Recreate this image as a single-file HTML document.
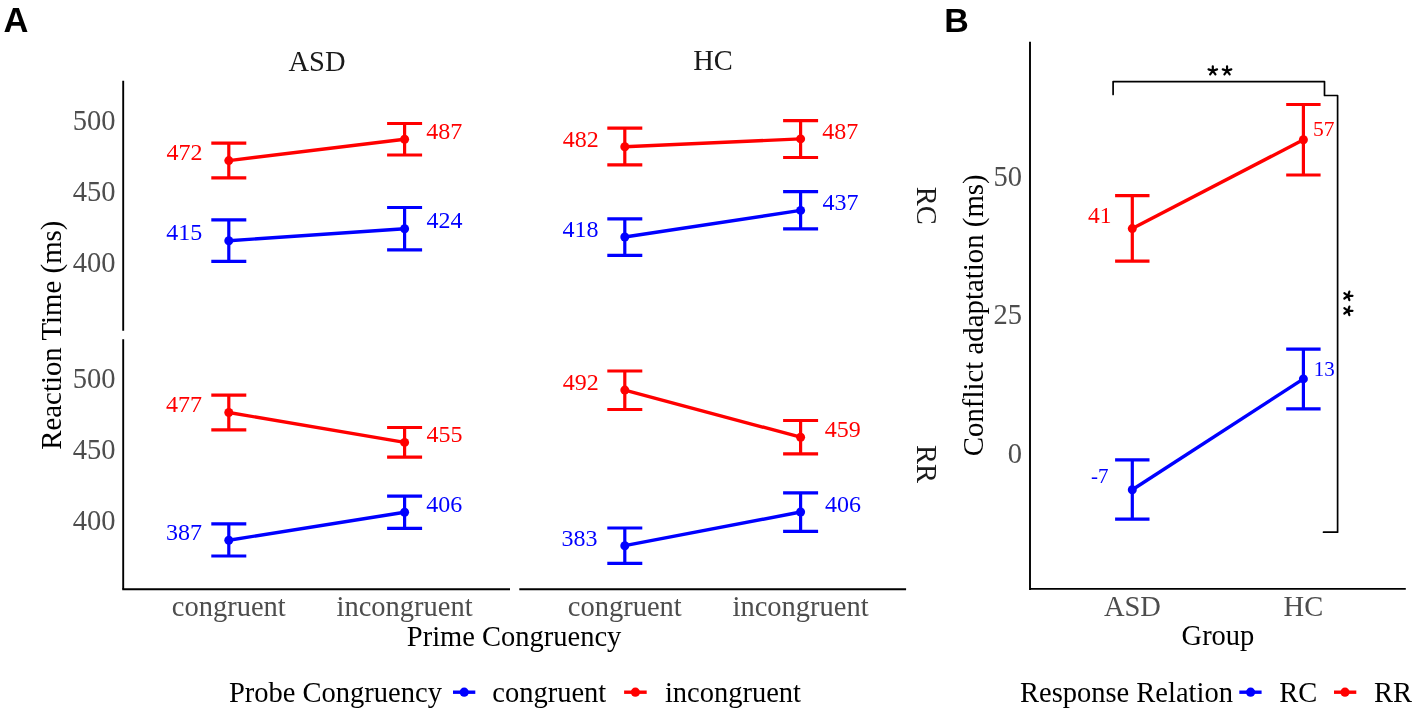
<!DOCTYPE html>
<html><head><meta charset="utf-8"><title>Figure</title>
<style>html,body{margin:0;padding:0;background:#fff;}body{width:1418px;height:714px;overflow:hidden;font-family:"Liberation Serif",serif;}svg{display:block;will-change:transform;}</style>
</head><body>
<svg width="1418" height="714" viewBox="0 0 1418 714">
<rect width="1418" height="714" fill="#fff"/>
<text x="3.56" y="32.07" font-family="Liberation Sans, sans-serif" font-size="34.5" font-weight="bold" fill="#000000">A</text>
<text x="944.35" y="32.05" font-family="Liberation Sans, sans-serif" font-size="34" font-weight="bold" fill="#000000">B</text>
<path d="M123.2,80.8V330.8M123.2,339.3V589.3" stroke="#000" stroke-width="1.9" fill="none"/>
<path d="M122.25,589.3H510.0M519.3,589.3H906.1" stroke="#000" stroke-width="1.9" fill="none"/>
<text x="288.53" y="70.54" font-family="Liberation Serif, serif" font-size="28.5" font-weight="normal" fill="#1a1a1a">ASD</text>
<text x="693.28" y="70.29" font-family="Liberation Serif, serif" font-size="28.5" font-weight="normal" fill="#1a1a1a">HC</text>
<text x="0" y="0" transform="translate(916.91,186.76) rotate(90)" font-family="Liberation Serif, serif" font-size="28.5" fill="#1a1a1a">RC</text>
<text x="0" y="0" transform="translate(916.82,444.99) rotate(90)" font-family="Liberation Serif, serif" font-size="28.5" fill="#1a1a1a">RR</text>
<text x="72.63" y="130.18" font-family="Liberation Serif, serif" font-size="28.5" font-weight="normal" fill="#4d4d4d">500</text>
<text x="72.63" y="201.18" font-family="Liberation Serif, serif" font-size="28.5" font-weight="normal" fill="#4d4d4d">450</text>
<text x="72.63" y="272.18" font-family="Liberation Serif, serif" font-size="28.5" font-weight="normal" fill="#4d4d4d">400</text>
<text x="72.63" y="388.28" font-family="Liberation Serif, serif" font-size="28.5" font-weight="normal" fill="#4d4d4d">500</text>
<text x="72.63" y="459.28" font-family="Liberation Serif, serif" font-size="28.5" font-weight="normal" fill="#4d4d4d">450</text>
<text x="72.63" y="530.28" font-family="Liberation Serif, serif" font-size="28.5" font-weight="normal" fill="#4d4d4d">400</text>
<text x="0" y="0" transform="translate(61.39,449.73) rotate(-90)" font-family="Liberation Serif, serif" font-size="28.85" fill="#000000">Reaction Time (ms)</text>
<text x="228.80" y="616.00" text-anchor="middle" font-family="Liberation Serif, serif" font-size="28.5" fill="#4d4d4d">congruent</text>
<text x="404.60" y="616.00" text-anchor="middle" font-family="Liberation Serif, serif" font-size="28.5" fill="#4d4d4d">incongruent</text>
<text x="624.80" y="616.00" text-anchor="middle" font-family="Liberation Serif, serif" font-size="28.5" fill="#4d4d4d">congruent</text>
<text x="800.60" y="616.00" text-anchor="middle" font-family="Liberation Serif, serif" font-size="28.5" fill="#4d4d4d">incongruent</text>
<text x="406.85" y="646.01" font-family="Liberation Serif, serif" font-size="28.5" font-weight="normal" fill="#000000">Prime Congruency</text>
<path d="M211.30,143.20H246.30M211.30,177.80H246.30M228.80,143.20V177.80" stroke="#ff0000" stroke-width="3.2" fill="none"/>
<path d="M387.10,123.50H422.10M387.10,155.00H422.10M404.60,123.50V155.00" stroke="#ff0000" stroke-width="3.2" fill="none"/>
<path d="M211.30,219.90H246.30M211.30,261.40H246.30M228.80,219.90V261.40" stroke="#0000ff" stroke-width="3.2" fill="none"/>
<path d="M387.10,207.50H422.10M387.10,249.80H422.10M404.60,207.50V249.80" stroke="#0000ff" stroke-width="3.2" fill="none"/>
<path d="M607.30,128.20H642.30M607.30,164.90H642.30M624.80,128.20V164.90" stroke="#ff0000" stroke-width="3.2" fill="none"/>
<path d="M783.10,120.70H818.10M783.10,157.50H818.10M800.60,120.70V157.50" stroke="#ff0000" stroke-width="3.2" fill="none"/>
<path d="M607.30,218.90H642.30M607.30,255.30H642.30M624.80,218.90V255.30" stroke="#0000ff" stroke-width="3.2" fill="none"/>
<path d="M783.10,191.60H818.10M783.10,228.80H818.10M800.60,191.60V228.80" stroke="#0000ff" stroke-width="3.2" fill="none"/>
<path d="M211.30,395.20H246.30M211.30,429.80H246.30M228.80,395.20V429.80" stroke="#ff0000" stroke-width="3.2" fill="none"/>
<path d="M387.10,427.50H422.10M387.10,457.20H422.10M404.60,427.50V457.20" stroke="#ff0000" stroke-width="3.2" fill="none"/>
<path d="M211.30,523.90H246.30M211.30,556.00H246.30M228.80,523.90V556.00" stroke="#0000ff" stroke-width="3.2" fill="none"/>
<path d="M387.10,496.20H422.10M387.10,528.30H422.10M404.60,496.20V528.30" stroke="#0000ff" stroke-width="3.2" fill="none"/>
<path d="M607.30,371.00H642.30M607.30,409.50H642.30M624.80,371.00V409.50" stroke="#ff0000" stroke-width="3.2" fill="none"/>
<path d="M783.10,420.50H818.10M783.10,453.80H818.10M800.60,420.50V453.80" stroke="#ff0000" stroke-width="3.2" fill="none"/>
<path d="M607.30,528.00H642.30M607.30,563.30H642.30M624.80,528.00V563.30" stroke="#0000ff" stroke-width="3.2" fill="none"/>
<path d="M783.10,492.80H818.10M783.10,531.30H818.10M800.60,492.80V531.30" stroke="#0000ff" stroke-width="3.2" fill="none"/>
<line x1="228.80" y1="160.60" x2="404.60" y2="139.30" stroke="#ff0000" stroke-width="3.4"/>
<circle cx="228.80" cy="160.60" r="4.5" fill="#ff0000"/>
<circle cx="404.60" cy="139.30" r="4.5" fill="#ff0000"/>
<line x1="228.80" y1="240.70" x2="404.60" y2="228.70" stroke="#0000ff" stroke-width="3.4"/>
<circle cx="228.80" cy="240.70" r="4.5" fill="#0000ff"/>
<circle cx="404.60" cy="228.70" r="4.5" fill="#0000ff"/>
<line x1="624.80" y1="146.70" x2="800.60" y2="138.90" stroke="#ff0000" stroke-width="3.4"/>
<circle cx="624.80" cy="146.70" r="4.5" fill="#ff0000"/>
<circle cx="800.60" cy="138.90" r="4.5" fill="#ff0000"/>
<line x1="624.80" y1="237.00" x2="800.60" y2="210.40" stroke="#0000ff" stroke-width="3.4"/>
<circle cx="624.80" cy="237.00" r="4.5" fill="#0000ff"/>
<circle cx="800.60" cy="210.40" r="4.5" fill="#0000ff"/>
<line x1="228.80" y1="412.50" x2="404.60" y2="442.40" stroke="#ff0000" stroke-width="3.4"/>
<circle cx="228.80" cy="412.50" r="4.5" fill="#ff0000"/>
<circle cx="404.60" cy="442.40" r="4.5" fill="#ff0000"/>
<line x1="228.80" y1="540.20" x2="404.60" y2="512.20" stroke="#0000ff" stroke-width="3.4"/>
<circle cx="228.80" cy="540.20" r="4.5" fill="#0000ff"/>
<circle cx="404.60" cy="512.20" r="4.5" fill="#0000ff"/>
<line x1="624.80" y1="390.10" x2="800.60" y2="437.20" stroke="#ff0000" stroke-width="3.4"/>
<circle cx="624.80" cy="390.10" r="4.5" fill="#ff0000"/>
<circle cx="800.60" cy="437.20" r="4.5" fill="#ff0000"/>
<line x1="624.80" y1="545.70" x2="800.60" y2="512.00" stroke="#0000ff" stroke-width="3.4"/>
<circle cx="624.80" cy="545.70" r="4.5" fill="#0000ff"/>
<circle cx="800.60" cy="512.00" r="4.5" fill="#0000ff"/>
<text x="166.52" y="160.30" font-family="Liberation Serif, serif" font-size="24" fill="#ff0000">472</text>
<text x="426.22" y="139.10" font-family="Liberation Serif, serif" font-size="24" fill="#ff0000">487</text>
<text x="166.24" y="240.40" font-family="Liberation Serif, serif" font-size="24" fill="#0000ff">415</text>
<text x="426.42" y="228.40" font-family="Liberation Serif, serif" font-size="24" fill="#0000ff">424</text>
<text x="562.72" y="146.50" font-family="Liberation Serif, serif" font-size="24" fill="#ff0000">482</text>
<text x="822.22" y="138.70" font-family="Liberation Serif, serif" font-size="24" fill="#ff0000">487</text>
<text x="562.61" y="236.80" font-family="Liberation Serif, serif" font-size="24" fill="#0000ff">418</text>
<text x="822.42" y="210.20" font-family="Liberation Serif, serif" font-size="24" fill="#0000ff">437</text>
<text x="166.10" y="412.30" font-family="Liberation Serif, serif" font-size="24" fill="#ff0000">477</text>
<text x="426.42" y="442.20" font-family="Liberation Serif, serif" font-size="24" fill="#ff0000">455</text>
<text x="166.10" y="540.00" font-family="Liberation Serif, serif" font-size="24" fill="#0000ff">387</text>
<text x="426.32" y="512.00" font-family="Liberation Serif, serif" font-size="24" fill="#0000ff">406</text>
<text x="562.72" y="389.90" font-family="Liberation Serif, serif" font-size="24" fill="#ff0000">492</text>
<text x="824.72" y="437.00" font-family="Liberation Serif, serif" font-size="24" fill="#ff0000">459</text>
<text x="561.54" y="545.50" font-family="Liberation Serif, serif" font-size="24" fill="#0000ff">383</text>
<text x="824.92" y="511.80" font-family="Liberation Serif, serif" font-size="24" fill="#0000ff">406</text>
<text x="228.98" y="701.96" font-family="Liberation Serif, serif" font-size="28.5" font-weight="normal" fill="#000000">Probe Congruency</text>
<line x1="453.0" y1="692.2" x2="475.3" y2="692.2" stroke="#0000ff" stroke-width="3.4"/>
<circle cx="464.2" cy="692.2" r="4.6" fill="#0000ff"/>
<line x1="624.1" y1="692.2" x2="646.7" y2="692.2" stroke="#ff0000" stroke-width="3.4"/>
<circle cx="635.4" cy="692.2" r="4.6" fill="#ff0000"/>
<text x="492.32" y="702.00" font-family="Liberation Serif, serif" font-size="28.5" fill="#000">congruent</text>
<text x="664.90" y="702.00" font-family="Liberation Serif, serif" font-size="28.5" fill="#000">incongruent</text>
<path d="M1030.0,41.8V589.9M1029.05,588.9H1405.8" stroke="#000" stroke-width="1.9" fill="none"/>
<text x="993.48" y="186.33" font-family="Liberation Serif, serif" font-size="28.5" font-weight="normal" fill="#4d4d4d">50</text>
<text x="993.51" y="324.49" font-family="Liberation Serif, serif" font-size="28.5" font-weight="normal" fill="#4d4d4d">25</text>
<text x="1007.73" y="462.93" font-family="Liberation Serif, serif" font-size="28.5" font-weight="normal" fill="#4d4d4d">0</text>
<text x="0" y="0" transform="translate(983.23,456.26) rotate(-90)" font-family="Liberation Serif, serif" font-size="28.85" fill="#000000">Conflict adaptation (ms)</text>
<text x="1132.40" y="616.20" text-anchor="middle" font-family="Liberation Serif, serif" font-size="28.5" fill="#4d4d4d">ASD</text>
<text x="1303.40" y="616.20" text-anchor="middle" font-family="Liberation Serif, serif" font-size="28.5" fill="#4d4d4d">HC</text>
<text x="1181.56" y="645.30" font-family="Liberation Serif, serif" font-size="28.5" font-weight="normal" fill="#000000">Group</text>
<path d="M1115.10,195.70H1149.50M1115.10,261.20H1149.50M1132.30,195.70V261.20" stroke="#ff0000" stroke-width="3.2" fill="none"/>
<path d="M1286.20,104.50H1320.60M1286.20,175.00H1320.60M1303.40,104.50V175.00" stroke="#ff0000" stroke-width="3.2" fill="none"/>
<path d="M1115.10,459.90H1149.50M1115.10,519.20H1149.50M1132.30,459.90V519.20" stroke="#0000ff" stroke-width="3.2" fill="none"/>
<path d="M1286.20,349.10H1320.60M1286.20,408.80H1320.60M1303.40,349.10V408.80" stroke="#0000ff" stroke-width="3.2" fill="none"/>
<line x1="1132.30" y1="228.60" x2="1303.40" y2="139.70" stroke="#ff0000" stroke-width="3.4"/>
<circle cx="1132.30" cy="228.60" r="4.5" fill="#ff0000"/>
<circle cx="1303.40" cy="139.70" r="4.5" fill="#ff0000"/>
<line x1="1132.30" y1="489.80" x2="1303.40" y2="378.90" stroke="#0000ff" stroke-width="3.4"/>
<circle cx="1132.30" cy="489.80" r="4.5" fill="#0000ff"/>
<circle cx="1303.40" cy="378.90" r="4.5" fill="#0000ff"/>
<text x="1088.02" y="222.95" font-family="Liberation Serif, serif" font-size="23.5" font-weight="normal" fill="#ff0000">41</text>
<text x="1313.04" y="135.98" font-family="Liberation Serif, serif" font-size="21.5" font-weight="normal" fill="#ff0000">57</text>
<text x="1313.79" y="375.65" font-family="Liberation Serif, serif" font-size="21" font-weight="normal" fill="#0000ff">13</text>
<text x="1091.07" y="483.03" font-family="Liberation Serif, serif" font-size="21" font-weight="normal" fill="#0000ff">-7</text>
<path d="M1113.1,94.5V81.6H1324.5V95.5H1337.6V532.2H1323.5" stroke="#000" stroke-width="1.7" fill="none" stroke-linejoin="round" stroke-linecap="round"/>
<path d="M1212.80,70.80L1212.80,66.30M1212.80,70.80L1217.08,69.41M1212.80,70.80L1215.45,74.44M1212.80,70.80L1210.15,74.44M1212.80,70.80L1208.52,69.41" stroke="#000" stroke-width="2.2" stroke-linecap="round" fill="none"/>
<path d="M1227.05,70.80L1227.05,66.30M1227.05,70.80L1231.33,69.41M1227.05,70.80L1229.70,74.44M1227.05,70.80L1224.40,74.44M1227.05,70.80L1222.77,69.41" stroke="#000" stroke-width="2.2" stroke-linecap="round" fill="none"/>
<path d="M1348.00,295.85L1352.50,295.85M1348.00,295.85L1349.39,300.13M1348.00,295.85L1344.36,298.50M1348.00,295.85L1344.36,293.20M1348.00,295.85L1349.39,291.57" stroke="#000" stroke-width="2.2" stroke-linecap="round" fill="none"/>
<path d="M1348.00,310.85L1352.50,310.85M1348.00,310.85L1349.39,315.13M1348.00,310.85L1344.36,313.50M1348.00,310.85L1344.36,308.20M1348.00,310.85L1349.39,306.57" stroke="#000" stroke-width="2.2" stroke-linecap="round" fill="none"/>
<text x="1019.97" y="701.80" font-family="Liberation Serif, serif" font-size="28.5" fill="#000">Response Relation</text>
<line x1="1239.3" y1="692.2" x2="1261.6" y2="692.2" stroke="#0000ff" stroke-width="3.4"/>
<circle cx="1250.6" cy="692.2" r="4.6" fill="#0000ff"/>
<text x="1279.37" y="701.80" font-family="Liberation Serif, serif" font-size="28.5" fill="#000">RC</text>
<line x1="1334.0" y1="692.2" x2="1356.3" y2="692.2" stroke="#ff0000" stroke-width="3.4"/>
<circle cx="1345.0" cy="692.2" r="4.6" fill="#ff0000"/>
<text x="1373.97" y="701.80" font-family="Liberation Serif, serif" font-size="28.5" fill="#000">RR</text>
</svg>
</body></html>
